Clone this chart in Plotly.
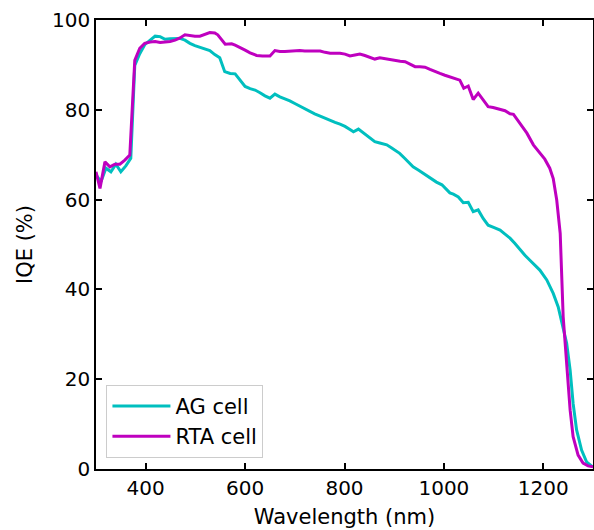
import plotly.graph_objects as go

# Wavelength (nm) and IQE (%)
ag_wl = [300, 310, 320, 330, 340, 350, 360, 370, 378, 388, 398, 409, 419, 429, 439, 449, 459, 469,
         479, 489, 499, 509, 519, 529, 539, 549, 559, 570, 580, 590, 600, 610, 620, 630, 640, 650,
         660, 670, 680, 690, 700, 710, 720, 731, 740, 751, 761, 771, 781, 791, 801, 811, 818, 828,
         838, 848, 861, 871, 885, 895, 911, 921, 930, 938, 950, 965, 975, 985, 996, 1005, 1012,
         1019, 1029, 1039, 1049, 1059, 1069, 1079, 1089, 1100, 1113, 1123, 1133, 1143, 1153, 1163,
         1173, 1183, 1193, 1207, 1220, 1230, 1240, 1247, 1254, 1260, 1267, 1277, 1287, 1297, 1300]
ag_iqe = [65.5, 64.0, 67.0, 66.2, 67.9, 66.2, 67.5, 69.2, 89.9, 92.5, 94.5, 95.5, 96.4, 96.3, 95.7,
          95.8, 95.9, 95.9, 95.5, 94.8, 94.3, 93.9, 93.6, 93.2, 92.3, 91.6, 88.5, 88.1, 88.0, 86.5,
          85.2, 84.7, 84.4, 83.8, 83.1, 82.6, 83.5, 82.9, 82.5, 82.0, 81.4, 80.8, 80.2, 79.6, 79.1,
          78.6, 78.1, 77.6, 77.2, 76.8, 76.3, 75.6, 75.1, 75.7, 74.8, 74.0, 72.9, 72.6, 72.2, 71.5,
          70.3, 69.2, 68.2, 67.3, 66.5, 65.3, 64.5, 63.9, 63.3, 62.2, 61.5, 61.2, 60.6, 59.3, 59.4,
          57.3, 57.7, 55.8, 54.3, 53.8, 53.2, 52.3, 51.4, 50.2, 48.8, 47.6, 46.5, 45.4, 44.3, 42.1,
          39.1, 36.1, 31.7, 28.0, 22.0, 14.6, 8.7, 4.2, 1.6, 0.5, 0.4]

rta_wl = [300, 308, 318, 328, 338, 348, 358, 368, 378, 388, 398, 409, 419, 429, 439, 449, 459, 469,
          479, 489, 499, 509, 519, 529, 539, 545, 560, 573, 580, 590, 600, 610, 623, 635, 650, 660,
          670, 680, 690, 700, 710, 720, 730, 740, 751, 761, 771, 781, 791, 801, 811, 821, 831, 841,
          851, 861, 871, 881, 891, 902, 912, 922, 932, 942, 952, 962, 972, 982, 992, 1002, 1012,
          1026, 1032, 1040, 1049, 1059, 1069, 1079, 1089, 1099, 1113, 1123, 1133, 1140, 1153, 1167,
          1180, 1193, 1203, 1213, 1220, 1227, 1234, 1240, 1247, 1254, 1260, 1270, 1280, 1290, 1300]
rta_iqe = [66.2, 62.5, 68.4, 67.3, 67.9, 67.9, 68.8, 69.9, 91.0, 93.7, 94.8, 95.1, 95.2, 95.0, 95.1,
           95.2, 95.5, 96.0, 96.7, 96.5, 96.4, 96.4, 96.8, 97.2, 97.1, 96.7, 94.6, 94.7, 94.4, 93.9,
           93.3, 92.7, 92.1, 92.0, 92.0, 93.2, 93.0, 93.0, 93.1, 93.2, 93.2, 93.1, 93.1, 93.1, 93.1,
           92.8, 92.6, 92.6, 92.6, 92.4, 92.0, 92.2, 92.4, 92.1, 91.7, 91.3, 91.6, 91.4, 91.2, 90.9,
           90.8, 90.7, 90.2, 89.6, 89.6, 89.5, 89.0, 88.5, 88.1, 87.7, 87.3, 86.8, 86.6, 84.8, 85.3,
           82.3, 83.7, 82.2, 80.7, 80.5, 80.0, 79.8, 79.1, 79.0, 77.0, 74.8, 72.2, 70.3, 69.0, 67.0,
           64.7, 59.9, 52.5, 33.9, 22.8, 13.1, 7.2, 3.1, 1.3, 0.7, 0.5]

x_ticks = [400, 600, 800, 1000, 1200]
y_ticks = [0, 20, 40, 60, 80, 100]

FONT = "DejaVu Sans"

fig = go.Figure()
fig.add_trace(go.Scatter(x=ag_wl, y=ag_iqe, mode="lines", name="AG cell",
                         line=dict(color="#00BFBF", width=3)))
fig.add_trace(go.Scatter(x=rta_wl, y=rta_iqe, mode="lines", name="RTA cell",
                         line=dict(color="#BF00BF", width=3)))

axis_common = dict(showline=True, linecolor="black", linewidth=1.5, mirror="ticks",
                   ticks="inside", ticklen=6, tickwidth=1.5, tickcolor="black",
                   showgrid=False, zeroline=False,
                   tickfont=dict(family=FONT, size=20, color="black"))

fig.update_xaxes(range=[300, 1300], tickvals=x_ticks, ticktext=[str(v) for v in x_ticks],
                 title=dict(text="Wavelength (nm)", font=dict(family=FONT, size=21, color="black"),
                            standoff=11),
                 automargin=False, **axis_common)
fig.update_yaxes(range=[0, 100], tickvals=y_ticks, ticktext=[str(v) for v in y_ticks],
                 title=dict(text="IQE (%)", font=dict(family=FONT, size=21, color="black"),
                            standoff=14),
                 automargin=False, **axis_common)

fig.update_layout(
    width=594, height=530,
    margin=dict(l=96, r=1, t=20, b=61),
    paper_bgcolor="white", plot_bgcolor="white",
    font=dict(family=FONT, color="black"),
    legend=dict(x=0.021, y=0.025, xanchor="left", yanchor="bottom", itemwidth=58,
                bgcolor="rgba(255,255,255,0.8)", bordercolor="#cccccc", borderwidth=1,
                font=dict(family=FONT, size=21, color="black")),
)

fig.write_html(
    "out.html",
    config={"displayModeBar": False},
    post_script="document.body.style.margin='0';document.body.style.overflow='hidden';",
)
